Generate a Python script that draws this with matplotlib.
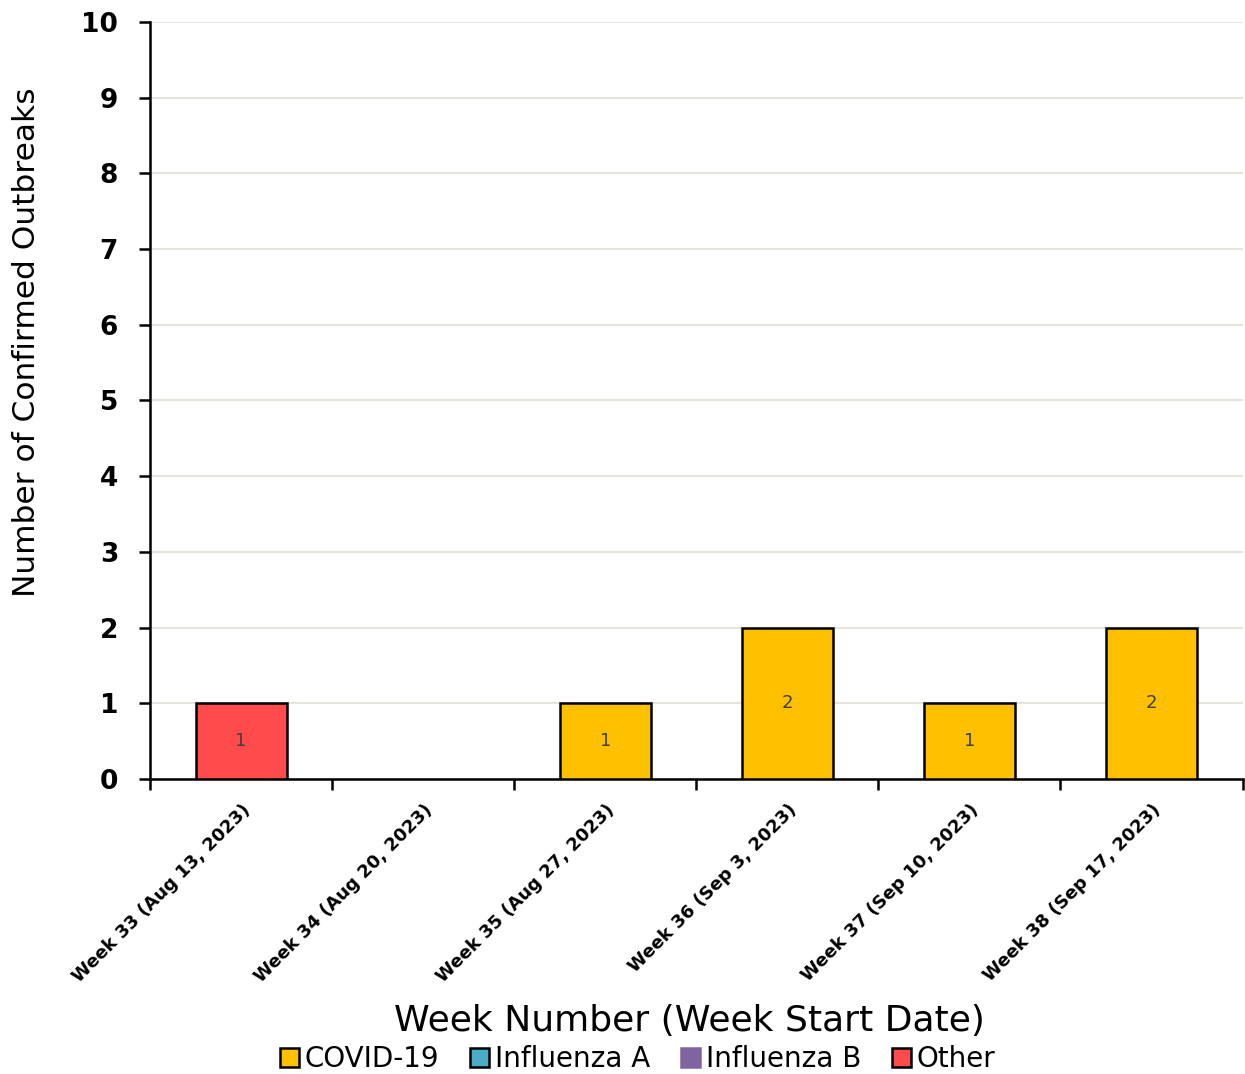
import matplotlib
matplotlib.use("Agg")
import matplotlib.pyplot as plt
from matplotlib.patches import Patch
import numpy as np

plt.rcParams['font.family'] = ['DejaVu Sans']

weeks = ["Week 33 (Aug 13, 2023)", "Week 34 (Aug 20, 2023)", "Week 35 (Aug 27, 2023)",
         "Week 36 (Sep 3, 2023)", "Week 37 (Sep 10, 2023)", "Week 38 (Sep 17, 2023)"]
covid = [0, 0, 1, 2, 1, 2]
flu_a = [0, 0, 0, 0, 0, 0]
flu_b = [0, 0, 0, 0, 0, 0]
other = [1, 0, 0, 0, 0, 0]

series = [("COVID-19", covid, "#FFC000", True),
          ("Influenza A", flu_a, "#4BACC6", True),
          ("Influenza B", flu_b, "#8064A2", False),
          ("Other", other, "#FF4B4B", True)]

fig = plt.figure(figsize=(12.45, 10.74), dpi=100)
ax = fig.add_axes([0.1205, 0.2747, 0.8775, 0.7048])

x = np.arange(len(weeks))
bottom = np.zeros(len(weeks))
for name, vals, col, edge in series:
    vals = np.array(vals, dtype=float)
    keep = vals > 0
    if keep.any():
        ax.bar(x[keep], vals[keep], bottom=bottom[keep], width=0.5, color=col,
               edgecolor="black", linewidth=1.8, zorder=3)
    for xi, v, b in zip(x, vals, bottom):
        if v > 0:
            ax.text(xi, b + v / 2, f"{int(v)}", ha="center", va="center",
                    fontsize=13, color="#404040", zorder=4)
    bottom += vals

ax.set_xlim(-0.5, len(weeks) - 0.5)
ax.set_ylim(0, 10)
ax.set_yticks(range(0, 11))
ax.tick_params(axis="y", labelsize=19, length=8, width=1.8, direction="out", pad=15)
for lbl in ax.get_yticklabels():
    lbl.set_fontweight("bold")
ax.grid(axis="y", color="#e6e4dc", linewidth=1.5, zorder=0)

ax.set_xticks(np.arange(-0.5, len(weeks)), minor=False)
ax.set_xticklabels([])
ax.tick_params(axis="x", which="major", length=8, width=1.8, direction="out")
ax.set_xticks(x, minor=True)
ax.set_xticklabels(weeks, minor=True, rotation=45, ha="right",
                   rotation_mode="anchor", fontsize=13, fontweight="bold")
ax.tick_params(axis="x", which="minor", length=0, pad=16)

for s in ["top", "right"]:
    ax.spines[s].set_visible(False)
for s in ["left", "bottom"]:
    ax.spines[s].set_linewidth(1.8)
    ax.spines[s].set_color("black")

ax.set_ylabel("Number of Confirmed Outbreaks", fontsize=22.5)
ax.yaxis.set_label_coords(-0.1, 0.577)
fig.text(0.554, 0.049, "Week Number (Week Start Date)", ha="center", va="center",
         fontsize=26)

handles = [Patch(facecolor=col, edgecolor="black" if edge else col,
                 linewidth=1.8, label=name) for name, vals, col, edge in series]
fig.legend(handles=handles, loc="center", bbox_to_anchor=(0.512, 0.014), ncol=4,
           frameon=False, fontsize=20, handlelength=0.7, handleheight=0.7,
           handletextpad=0.2, columnspacing=1.1)

fig.savefig("out.png", dpi=100)
